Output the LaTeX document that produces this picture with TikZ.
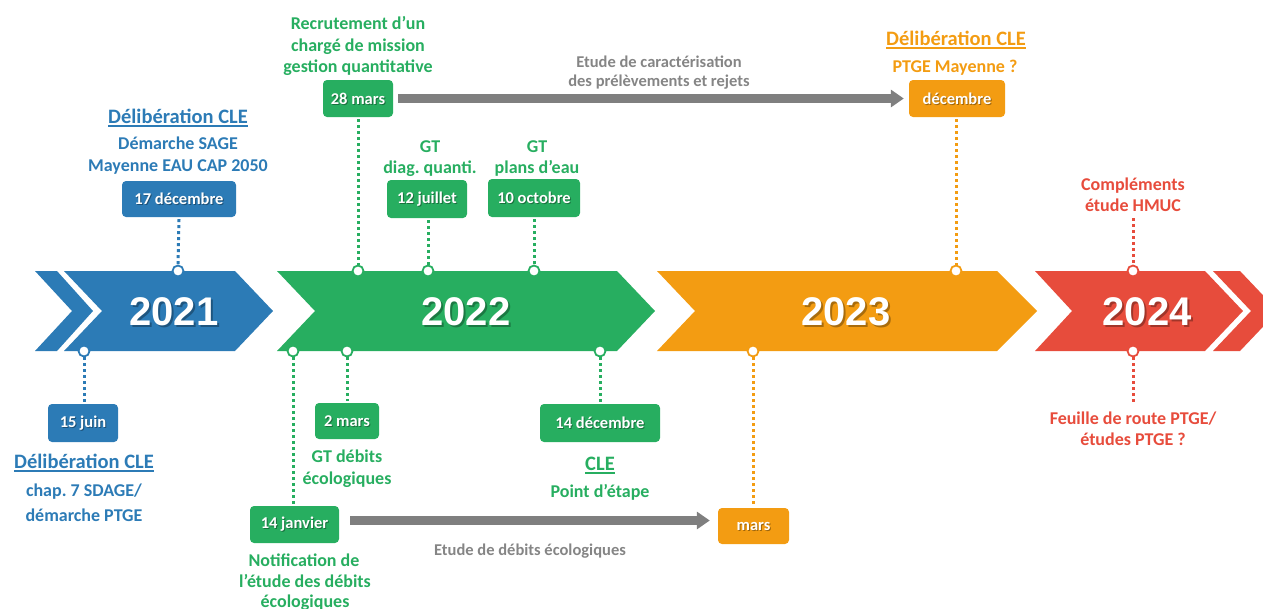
\documentclass[tikz,border=0pt]{standalone}
\usepackage{fontspec}
\setmainfont{Carlito}
\newfontfamily\yearfont{Liberation Sans}
\usetikzlibrary{arrows.meta}
\frenchspacing
\definecolor{cblue}{HTML}{2C7BB6}
\definecolor{cgreen}{HTML}{27AE60}
\definecolor{corange}{HTML}{F39C12}
\definecolor{cred}{HTML}{E74C3C}
\definecolor{cgray}{HTML}{7F7F7F}
\definecolor{cgraytext}{HTML}{858585}
\tikzset{
  lbl/.style={anchor=base, inner sep=0pt, font=\bfseries\fontsize{18}{22}\selectfont},
  ttl/.style={anchor=base, inner sep=0pt, font=\bfseries\fontsize{20.5}{24}\selectfont},
  gtxt/.style={anchor=base, inner sep=0pt, text=cgraytext, font=\bfseries\fontsize{16.5}{20}\selectfont},
  dbox/.style={rounded corners=4pt, inner sep=0pt},
  dtext/.style={inner sep=0pt, text=white, font=\bfseries\fontsize{16.5}{20}\selectfont},
  dshadow/.style={inner sep=0pt, text=black, text opacity=0.35, font=\bfseries\fontsize{16.5}{20}\selectfont},
  ytext/.style={inner sep=0pt, text=white, font=\yearfont\bfseries\fontsize{40}{44}\selectfont},
  yshadow/.style={inner sep=0pt, text=black, text opacity=0.3, font=\yearfont\bfseries\fontsize{40}{44}\selectfont},
  ring/.style={circle, draw, fill=white, line width=1.8pt, minimum size=11pt, inner sep=0pt},
  dots/.style={line width=3pt, dash pattern=on 3pt off 3pt},
  garrow/.style={draw=cgray, line width=9.5pt, -{Triangle[length=13pt,width=17pt]}},
  uline/.style={line width=1.4pt}
}
\newcommand\datebox[7]{%
  \node[dbox, fill=#6, minimum width=#4pt, minimum height=#5pt] (#1) at (#2,#3) {};
  \node[dshadow] (#1s) at ([shift={(1pt,-1pt)}]#1.center) {#7};
  \node[dtext] (#1t) at (#1.center) {#7};
}
\newcommand\yeartext[4]{%
  \node[yshadow] (#1s) at ([shift={(2pt,-2pt)}]#2,#3) {#4};
  \node[ytext] (#1) at (#2,#3) {#4};
}
\begin{document}
\begin{tikzpicture}[x=1pt,y=-1pt]
\useasboundingbox (0,0) rectangle (1263,608);
% ribbons
\fill[cblue] (35,271) -- (57,271) -- (93,311) -- (57,351) -- (35,351) -- (72,311) -- cycle;
\fill[cblue] (64,271) -- (235,271) -- (273,311) -- (235,351) -- (64,351) -- (102,311) -- cycle;
\fill[cgreen] (277,271) -- (617,271) -- (655,311) -- (617,351) -- (277,351) -- (315,311) -- cycle;
\fill[corange] (657,271) -- (997,271) -- (1037,311) -- (997,351) -- (657,351) -- (695,311) -- cycle;
\fill[cred] (1035,271) -- (1205,271) -- (1243,311) -- (1205,351) -- (1035,351) -- (1072,311) -- cycle;
\fill[cred] (1213,271) -- (1240,271) -- (1278,311) -- (1240,351) -- (1213,351) -- (1251,311) -- cycle;
% years
\yeartext{y21}{174}{312}{2021}
\yeartext{y22}{466}{312}{2022}
\yeartext{y23}{846}{312}{2023}
\yeartext{y24}{1147}{312}{2024}
% rings
\node[ring, draw=cblue] (cb1) at (178,271) {};
\node[ring, draw=cblue] (cb2) at (84,351) {};
\node[ring, draw=cgreen] (cg1) at (358,271) {};
\node[ring, draw=cgreen] (cg2) at (428,271) {};
\node[ring, draw=cgreen] (cg3) at (534,271) {};
\node[ring, draw=cgreen] (cg4) at (293,351) {};
\node[ring, draw=cgreen] (cg5) at (347,351) {};
\node[ring, draw=cgreen] (cg6) at (600,351) {};
\node[ring, draw=corange] (co1) at (956,271) {};
\node[ring, draw=corange] (co2) at (753,351) {};
\node[ring, draw=cred] (cr1) at (1133,271) {};
\node[ring, draw=cred] (cr2) at (1133,351) {};
% date boxes
\datebox{b17}{179}{199}{114}{36}{cblue}{17 décembre}
\datebox{b15}{83}{423}{70}{38}{cblue}{15 juin}
\datebox{b28}{358}{98.5}{70}{37}{cgreen}{28 mars}
\datebox{b12}{427}{199}{80}{38}{cgreen}{12 juillet}
\datebox{b10}{534}{198}{92}{38}{cgreen}{10 octobre}
\datebox{b14j}{294.5}{524.5}{89}{37}{cgreen}{14 janvier}
\datebox{b2}{347}{421}{64}{36}{cgreen}{2 mars}
\datebox{b14d}{600}{423}{120}{38}{cgreen}{14 décembre}
\datebox{bdec}{957}{98.5}{96}{37}{corange}{décembre}
\datebox{bmars}{753.5}{526}{71}{36}{corange}{mars}
% dotted connectors
\draw[dots, draw=cblue] ([yshift=-2pt]b17.south) -- (cb1.north);
\draw[dots, draw=cblue] (cb2.south) -- ([yshift=2pt]cb2 |- b15.north);
\draw[dots, draw=cgreen] ([yshift=-2pt]cg1 |- b28.south) -- (cg1.north);
\draw[dots, draw=cgreen] ([yshift=-2pt]cg2 |- b12.south) -- (cg2.north);
\draw[dots, draw=cgreen] ([yshift=-2pt]cg3 |- b10.south) -- (cg3.north);
\draw[dots, draw=cgreen] (cg4.south) -- ([yshift=2pt]cg4 |- b14j.north);
\draw[dots, draw=cgreen] (cg5.south) -- ([yshift=2pt]cg5 |- b2.north);
\draw[dots, draw=cgreen] (cg6.south) -- ([yshift=2pt]cg6 |- b14d.north);
\draw[dots, draw=corange] ([yshift=-2pt]co1 |- bdec.south) -- (co1.north);
\draw[dots, draw=corange] (co2.south) -- ([yshift=2pt]co2 |- bmars.north);
\coordinate (rtop) at (1133,218);
\coordinate (rbot) at (1133,402);
\draw[dots, draw=cred] (rtop) -- (cr1.north);
\draw[dots, draw=cred] (cr2.south) -- (rbot);
% gray arrows
\draw[garrow] ([xshift=5pt]b28.east) -- ([xshift=-5pt]b28.east -| bdec.west);
\draw[garrow] ([xshift=11pt,yshift=4pt]b14j.east) -- ([xshift=-8pt,yshift=4pt]b14j.east -| bmars.west);
\node[gtxt] (g1) at (659,67) {Etude de caractérisation};
\node[gtxt] (g2) at (659,86) {des prélèvements et rejets};
\node[gtxt] (g3) at (530,555) {Etude de débits écologiques};
% blue labels
\node[ttl, text=cblue] (tb1) at (178,123) {Délibération CLE};
\draw[uline, cblue] ([yshift=-3pt]tb1.base west) -- ([yshift=-3pt]tb1.base east);
\node[lbl, text=cblue] (tb2) at (178,149) {Démarche SAGE};
\node[lbl, text=cblue] (tb3) at (178,171) {Mayenne EAU CAP 2050};
\node[ttl, text=cblue] (tb4) at (84,468) {Délibération CLE};
\draw[uline, cblue] ([yshift=-3pt]tb4.base west) -- ([yshift=-3pt]tb4.base east);
\node[lbl, text=cblue] (tb5) at (84,496) {chap. 7 SDAGE/};
\node[lbl, text=cblue] (tb6) at (84,521) {démarche PTGE};
% green labels
\node[lbl, text=cgreen] (tg1) at (358,29) {Recrutement d’un};
\node[lbl, text=cgreen] (tg2) at (358,51) {chargé de mission};
\node[lbl, text=cgreen] (tg3) at (358,72) {gestion quantitative};
\node[lbl, text=cgreen] (tg4) at (430,152) {GT};
\node[lbl, text=cgreen] (tg5) at (430,173) {diag. quanti.};
\node[lbl, text=cgreen] (tg6) at (537,152) {GT};
\node[lbl, text=cgreen] (tg7) at (537,173) {plans d’eau};
\node[lbl, text=cgreen] (tg8) at (347,462) {GT débits};
\node[lbl, text=cgreen] (tg9) at (347,484) {écologiques};
\node[ttl, text=cgreen] (tg10) at (600,470) {CLE};
\draw[uline, cgreen] ([yshift=-3pt]tg10.base west) -- ([yshift=-3pt]tg10.base east);
\node[lbl, text=cgreen] (tg11) at (600,497) {Point d’étape};
\node[lbl, text=cgreen] (tg12) at (304,566) {Notification de};
\node[lbl, text=cgreen] (tg13) at (305,587) {l’étude des débits};
\node[lbl, text=cgreen] (tg14) at (305,607) {écologiques};
% orange labels
\node[ttl, text=corange] (to1) at (956,45) {Délibération CLE};
\draw[uline, corange] ([yshift=-3pt]to1.base west) -- ([yshift=-3pt]to1.base east);
\node[lbl, text=corange] (to2) at (955,72) {PTGE Mayenne ?};
% red labels
\node[lbl, text=cred] (tr1) at (1133,190) {Compléments};
\node[lbl, text=cred] (tr2) at (1133,211) {étude HMUC};
\node[lbl, text=cred] (tr3) at (1133,424) {Feuille de route PTGE/};
\node[lbl, text=cred] (tr4) at (1133,445) {études PTGE ?};
\end{tikzpicture}
\end{document}
